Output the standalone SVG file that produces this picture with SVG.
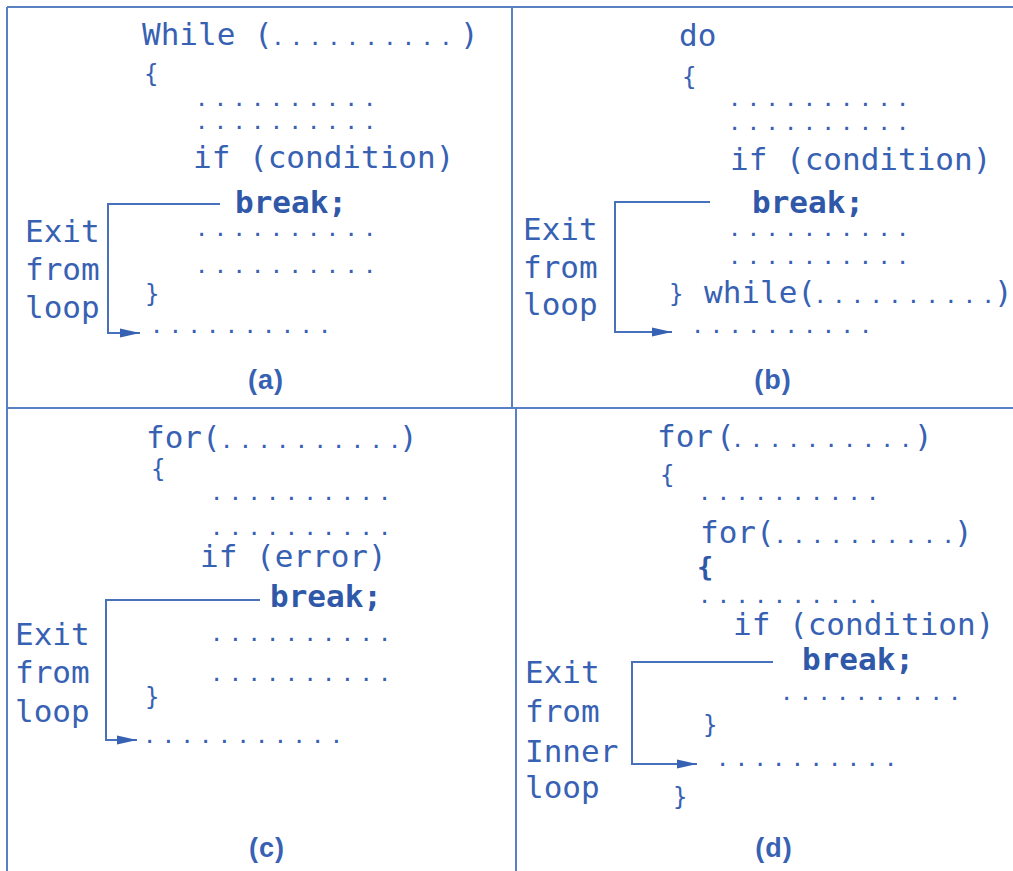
<svg xmlns="http://www.w3.org/2000/svg" width="1013" height="871" viewBox="0 0 1013 871">
<style>
.c{font-family:"DejaVu Sans Mono","Liberation Mono",monospace;font-size:31px;fill:#3761b3}
.b{font-weight:bold;fill:#2f58a8}
.d{font-family:"DejaVu Sans Mono","Liberation Mono",monospace;font-size:17px;font-weight:bold;letter-spacing:8.43px;fill:#3761b3}
.e{letter-spacing:0}
.sp{font-size:5px}
.br{font-family:"DejaVu Sans Mono","Liberation Mono",monospace;font-size:24px;fill:#3761b3}
.lab{font-family:"Liberation Sans",Arial,sans-serif;font-size:27px;font-weight:bold;letter-spacing:1px;fill:#3761b3;text-anchor:middle}
.frame{fill:none;stroke:#5a80c4;stroke-width:2}
.conn{fill:none;stroke:#4870bb;stroke-width:2}
</style>
<defs>
<marker id="arr" markerUnits="userSpaceOnUse" markerWidth="22" markerHeight="12" refX="20" refY="6" orient="auto">
<path d="M0,1.5 L20,6 L0,10.5 Z" fill="#3761b3"/>
</marker>
</defs>
<rect width="1013" height="871" fill="#ffffff"/>
<g id="frame">
<path class="frame" d="M7,7 H1013 M7,7 V871 M512,7 V408 M7,408 H1013 M516,408 V871"/>
</g>
<g id="panel-a">
<text class="c" x="142" y="45">While (<tspan class="d">.........</tspan><tspan class="d e">.</tspan><tspan x="460">)</tspan></text>
<text class="br" x="144" y="82">{</text>
<text class="d" x="196.6" y="106">..........</text>
<text class="d" x="196.6" y="129">..........</text>
<text class="c" x="193" y="168">if (condition)</text>
<text class="c b" x="235" y="213">break;</text>
<text class="d" x="196.6" y="236">..........</text>
<text class="d" x="196.6" y="273">..........</text>
<text class="br" x="145" y="302">}</text>
<text class="d" x="151.6" y="333">..........</text>
<text class="c" x="25" y="242">Exit</text>
<text class="c" x="25" y="280">from</text>
<text class="c" x="25" y="318">loop</text>
<text class="lab" x="266" y="389">(a)</text>
</g>
<g id="panel-b">
<text class="c" x="679" y="46">do</text>
<text class="br" x="682" y="85">{</text>
<text class="d" x="729.6" y="106">..........</text>
<text class="d" x="729.6" y="130">..........</text>
<text class="c" x="730" y="170">if (condition)</text>
<text class="c b" x="752" y="213">break;</text>
<text class="d" x="729.6" y="236">..........</text>
<text class="d" x="729.6" y="264">..........</text>
<text class="c" x="669" y="302"><tspan class="br">}</tspan><tspan class="sp"> </tspan><tspan x="704" y="303">while(</tspan><tspan class="d" x="815">.........</tspan><tspan class="d e">.</tspan><tspan x="994">)</tspan></text>
<text class="d" x="692.6" y="333">..........</text>
<text class="c" x="523" y="240">Exit</text>
<text class="c" x="523" y="278">from</text>
<text class="c" x="523" y="315">loop</text>
<text class="lab" x="773" y="389">(b)</text>
</g>
<g id="panel-c">
<text class="c" x="146" y="448">for<tspan x="202">(</tspan><tspan class="d" x="221.6">.........</tspan><tspan class="d e">.</tspan><tspan x="399">)</tspan></text>
<text class="br" x="151" y="477">{</text>
<text class="d" x="211.6" y="500">..........</text>
<text class="d" x="211.6" y="535">..........</text>
<text class="c" x="200" y="567">if (error)</text>
<text class="c b" x="270" y="607">break;</text>
<text class="d" x="211.6" y="641">..........</text>
<text class="d" x="211.6" y="681">..........</text>
<text class="br" x="145" y="705">}</text>
<text class="d" x="144.6" y="743">...........</text>
<text class="c" x="15" y="645">Exit</text>
<text class="c" x="15" y="683">from</text>
<text class="c" x="15" y="722">loop</text>
<text class="lab" x="267" y="857">(c)</text>
</g>
<g id="panel-d">
<text class="c" x="657" y="447">for<tspan class="sp"> </tspan><tspan x="716">(</tspan><tspan class="d" x="732.6">.........</tspan><tspan class="d e">.</tspan><tspan x="914">)</tspan></text>
<text class="br" x="660" y="483">{</text>
<text class="d" x="699.6" y="500">..........</text>
<text class="c" x="700" y="543">for<tspan class="sp"> </tspan><tspan x="756">(</tspan><tspan class="d" x="775">.........</tspan><tspan class="d e">.</tspan><tspan x="954">)</tspan></text>
<text class="c b" x="697" y="576" style="font-size:27px">{</text>
<text class="d" x="699.6" y="603">..........</text>
<text class="c" x="733" y="635">if (condition)</text>
<text class="c b" x="802" y="670">break;</text>
<text class="d" x="781.6" y="700">..........</text>
<text class="br" x="703" y="733">}</text>
<text class="d" x="717.6" y="766">..........</text>
<text class="br" x="673" y="805">}</text>
<text class="c" x="525" y="683">Exit</text>
<text class="c" x="525" y="722">from</text>
<text class="c" x="525" y="762">Inner</text>
<text class="c" x="525" y="798">loop</text>
<text class="lab" x="774" y="857">(d)</text>
</g>
<g id="connectors">
<path class="conn" d="M220,204 H108 V333 H140" marker-end="url(#arr)"/>
<path class="conn" d="M710,202 H615 V332 H672" marker-end="url(#arr)"/>
<path class="conn" d="M260,600 H106 V740 H137" marker-end="url(#arr)"/>
<path class="conn" d="M773,662 H632 V764 H697" marker-end="url(#arr)"/>
</g>
</svg>
